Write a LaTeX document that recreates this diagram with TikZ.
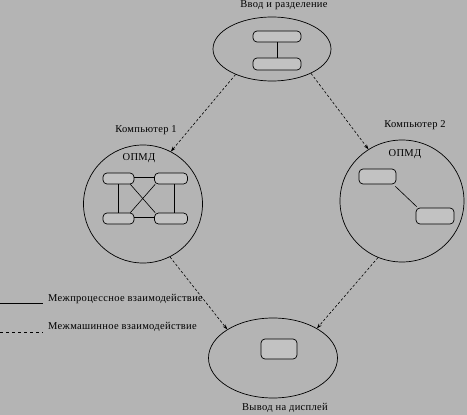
\documentclass[tikz,border=0pt]{standalone}
\usepackage{fontspec}
\setmainfont{Liberation Serif}[LetterSpace=3]
\usetikzlibrary{shapes.geometric,arrows.meta}
\definecolor{bg}{RGB}{180,180,180}
\definecolor{boxfill}{RGB}{194,194,194}
\begin{document}
\begin{tikzpicture}[x=1pt,y=-1pt,
  oval/.style={ellipse, draw, line width=0.7pt, inner sep=0pt},
  proc/.style={draw, fill=boxfill, rounded corners=4pt, inner sep=0pt, line width=0.7pt},
  lbl/.style={font=\fontsize{10.5}{12}\selectfont, inner sep=0pt},
  link/.style={line width=0.6pt},
  msg/.style={line width=0.6pt, dash pattern=on 2.5pt off 2pt, -{Stealth[length=5pt,width=3.5pt]}},
  leg/.style={line width=0.7pt}]
\fill[bg] (0,0) rectangle (467,415);
\useasboundingbox (0,0) rectangle (467,415);

% top ellipse
\node[oval, minimum width=118, minimum height=64] (top) at (272,49) {};
\node[proc, minimum width=48, minimum height=11] (t1) at (277,36.5) {};
\node[proc, minimum width=48, minimum height=12] (t2) at (277,64) {};
\draw[link] (t1.south) -- (t2.north);
\node[lbl] (ttop) at (284,5) {Ввод и разделение};

% left circle
\node[oval, minimum width=119, minimum height=118] (c1) at (143,204) {};
\node[lbl] (tc1) at (146,130) {Компьютер 1};
\node[lbl] (o1) at (139,158) {ОПМД};
\node[proc, minimum width=31, minimum height=11] (tl) at (118.5,178.5) {};
\node[proc, minimum width=33, minimum height=11] (tr) at (171,178.5) {};
\node[proc, minimum width=31, minimum height=11] (bl) at (118.5,218.5) {};
\node[proc, minimum width=33, minimum height=11] (br) at (171,218.5) {};
\draw[link] ([yshift=1.5pt]tl.east) -- ([yshift=1.5pt]tr.west);
\draw[link] ([yshift=1.5pt]bl.east) -- ([yshift=1.5pt]br.west);
\draw[link] (tl.south) -- (bl.north);
\draw[link] ([xshift=3pt]tr.south) -- ([xshift=3pt]br.north);
\draw[link] ([xshift=-4pt]tl.south east) -- ([xshift=1pt]br.north west);
\draw[link] ([xshift=1pt]tr.south west) -- ([xshift=-4pt]bl.north east);

% right circle
\node[oval, minimum width=124, minimum height=122] (c2) at (402,201) {};
\node[lbl] (tc2) at (415,125) {Компьютер 2};
\node[lbl] (o2) at (405,154) {ОПМД};
\node[proc, minimum width=37, minimum height=15] (ra) at (377.5,176.5) {};
\node[proc, minimum width=38, minimum height=16] (rb) at (435,216) {};
\draw[link] ([xshift=-1pt,yshift=-2pt]ra.south east) -- ([xshift=1pt,yshift=1pt]rb.north west);

% bottom ellipse
\node[oval, minimum width=129, minimum height=80] (bot) at (273,358) {};
\node[proc, minimum width=36, minimum height=20] (d) at (279,349) {};
\node[lbl] (tbot) at (285,408) {Вывод на дисплей};

% messages
\draw[msg] (top.215) -- (c1.62);
\draw[msg] (top.328) -- (c2.123);
\draw[msg] (c1.297) -- (bot.148);
\draw[msg] (c2.247) -- (bot.34);

% legend
\coordinate (l1a) at (0,303);
\coordinate (l1b) at (43,303);
\coordinate (l2a) at (0,332);
\coordinate (l2b) at (43,332);
\draw[leg] (l1a) -- (l1b);
\draw[leg, dash pattern=on 3pt off 3pt] (l2a) -- (l2b);
\node[lbl, anchor=west] (lg1) at (48,299) {Межпроцессное взаимодействие};
\node[lbl, anchor=west] (lg2) at (48,327) {Межмашинное взаимодействие};
\end{tikzpicture}
\end{document}
